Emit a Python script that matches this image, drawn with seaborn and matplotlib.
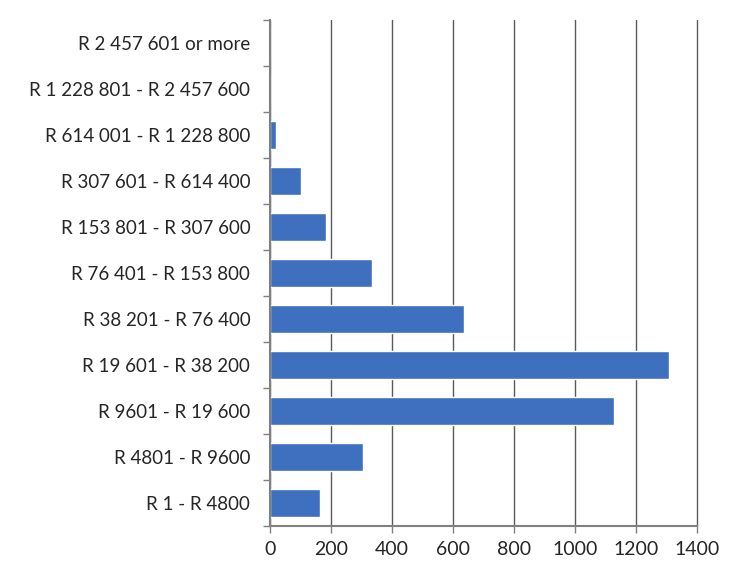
import matplotlib
matplotlib.use("Agg")
import matplotlib.pyplot as plt
import seaborn as sns
import pandas as pd
import numpy as np

categories = [
    "R 2 457 601 or more",
    "R 1 228 801 - R 2 457 600",
    "R 614 001 - R 1 228 800",
    "R 307 601 - R 614 400",
    "R 153 801 - R 307 600",
    "R 76 401 - R 153 800",
    "R 38 201 - R 76 400",
    "R 19 601 - R 38 200",
    "R 9601 - R 19 600",
    "R 4801 - R 9600",
    "R 1 - R 4800",
]
values = [0, 0, 21, 101, 186, 335, 637, 1310, 1128, 305, 165]
x_ticks = [0, 200, 400, 600, 800, 1000, 1200, 1400]

sns.set_theme(style="white")
plt.rcParams["font.family"] = ["Lato", "DejaVu Sans"]

df = pd.DataFrame({"band": categories, "count": values})

fig = plt.figure(figsize=(7.29, 5.70), dpi=100)
ax = fig.add_axes([0.370, 0.077, 0.586, 0.888])

sns.barplot(data=df, y="band", x="count", order=categories, color="#3F6FBF",
            saturation=1, width=0.62, ax=ax, orient="h")

ax.set_xlim(0, 1400)
ax.set_ylim(len(categories) - 0.5, -0.5)
ax.set_xticks(x_ticks)
ax.set_xticklabels([str(t) for t in x_ticks])
ax.set_xlabel("")
ax.set_ylabel("")
ax.xaxis.grid(True, color="#5a5a5a", linewidth=1)
for gl in ax.get_xgridlines():
    gl.set_clip_on(False)
ax.yaxis.grid(False)
ax.set_axisbelow(True)
for s in ["top", "right"]:
    ax.spines[s].set_visible(False)
for s in ["left", "bottom"]:
    ax.spines[s].set_visible(True)
    ax.spines[s].set_color("#808080")
    ax.spines[s].set_linewidth(1.5)

ax.tick_params(axis="x", length=5, width=1, color="#808080", labelsize=14,
               labelcolor="#262626", pad=6, bottom=True)
ax.tick_params(axis="y", length=0, labelsize=13.5, labelcolor="#262626", pad=14)
# category boundary ticks on y axis
ax.set_yticks(np.arange(-0.5, len(categories), 1.0), minor=True)
ax.tick_params(axis="y", which="minor", length=5, width=1, color="#808080", left=True)

fig.savefig("out.png", dpi=100)
